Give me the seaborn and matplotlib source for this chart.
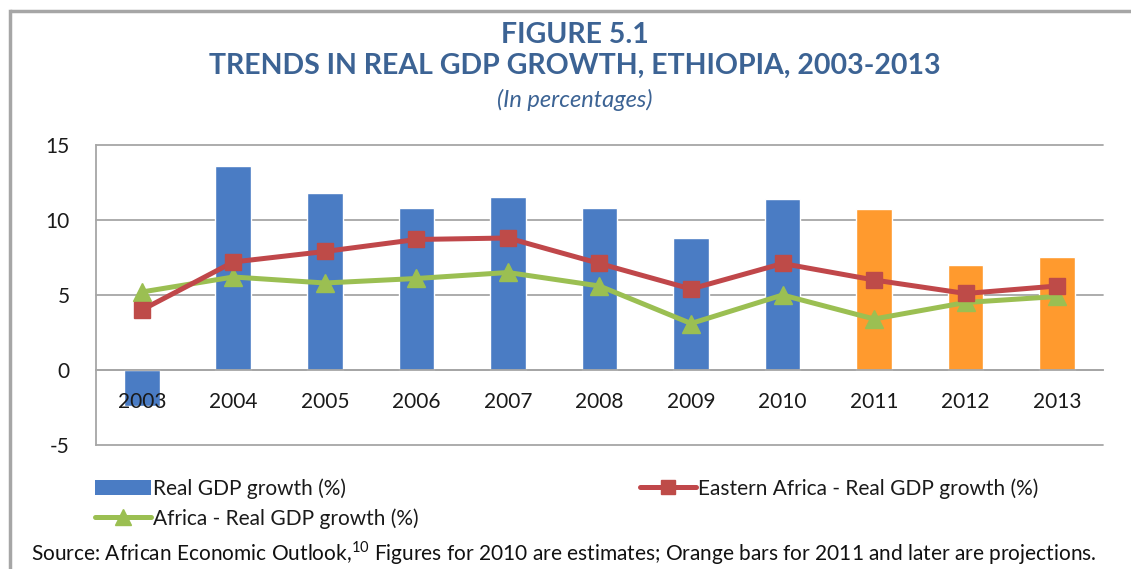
import numpy as np
import pandas as pd
import matplotlib
matplotlib.use("Agg")
import matplotlib.pyplot as plt
from matplotlib.lines import Line2D
from matplotlib.patches import Patch
import seaborn as sns

# Data (percent)
years = ["2003", "2004", "2005", "2006", "2007", "2008", "2009", "2010", "2011", "2012", "2013"]
ethiopia_gdp = [-2.4, 13.6, 11.8, 10.8, 11.5, 10.8, 8.8, 11.4, 10.7, 7.0, 7.5]
eastern_africa_gdp = [4.0, 7.2, 7.9, 8.7, 8.8, 7.1, 5.4, 7.1, 6.0, 5.1, 5.6]
africa_gdp = [5.2, 6.2, 5.8, 6.1, 6.5, 5.6, 3.1, 5.0, 3.4, 4.5, 4.9]
projection_from = "2011"

y_ticks = [-5, 0, 5, 10, 15]

BLUE = "#4a7cc4"
ORANGE = "#ff9a2e"
RED = "#c0474a"
GREEN = "#9bbf52"
TITLE_BLUE = "#3c6394"
TEXT = "#1a1a1a"
GRID = "#a6a6a6"

sns.set_theme(style="white")
FONT = ["Lato", "DejaVu Sans"]
plt.rcParams["font.family"] = FONT
plt.rcParams["mathtext.fontset"] = "custom"
plt.rcParams["mathtext.rm"] = "Lato"

df = pd.DataFrame({"year": years, "gdp": ethiopia_gdp})
bar_colors = [ORANGE if int(y) >= int(projection_from) else BLUE for y in years]

fig = plt.figure(figsize=(11.31, 5.69), dpi=100)
ax = fig.add_axes([0.0849, 0.2179, 0.8903, 0.5273])

# Horizontal gridlines behind everything
for v in y_ticks:
    ax.axhline(v, color=GRID, lw=1.3, zorder=0.5, clip_on=False)

sns.barplot(data=df, x="year", y="gdp", hue="year", palette=bar_colors,
            legend=False, width=0.39, saturation=1, ax=ax, zorder=1)

pos = np.arange(len(years))
ax.plot(pos, eastern_africa_gdp, color=RED, lw=3.6, marker="s", ms=12,
        mfc="#be4b48", mec="#be4b48", zorder=4)
ax.plot(pos, africa_gdp, color=GREEN, lw=3.6, marker="^", ms=13,
        mfc=GREEN, mec=GREEN, zorder=3)

ax.set_ylim(-5, 15)
ax.set_xlim(-0.5, len(years) - 0.5)
ax.set_yticks(y_ticks)
ax.set_yticklabels([str(v) for v in y_ticks])
ax.grid(False)
ax.set_axisbelow(False)
ax.set_xlabel("")
ax.set_ylabel("")

for s in ["top", "right"]:
    ax.spines[s].set_visible(False)
ax.spines["left"].set_color(GRID)
ax.spines["left"].set_linewidth(1.3)
ax.spines["bottom"].set_position(("data", 0))
ax.spines["bottom"].set_color(GRID)
ax.spines["bottom"].set_linewidth(1.3)

ax.set_xticks(pos)
ax.set_xticklabels(years)
ax.set_xticks(np.arange(len(years) + 1) - 0.5, minor=True)
ax.tick_params(axis="x", which="major", length=0, pad=16, labelsize=15, labelcolor=TEXT)
ax.tick_params(axis="x", which="minor", length=6, width=1.3, color=GRID, direction="out")
ax.tick_params(axis="y", length=0, pad=19, labelsize=15, labelcolor=TEXT)
ax.xaxis.set_zorder(5)

# Titles
fig.text(0.508, 0.938, "FIGURE 5.1", ha="center", va="center",
         fontsize=20.5, fontweight="bold", color=TITLE_BLUE)
fig.text(0.508, 0.884, "TRENDS IN REAL GDP GROWTH, ETHIOPIA, 2003-2013", ha="center",
         va="center", fontsize=20.5, fontweight="bold", color=TITLE_BLUE)
fig.text(0.508, 0.824, "(In percentages)", ha="center", va="center",
         fontsize=17, style="italic", color=TITLE_BLUE)

# Legend
handles = [
    Patch(facecolor=BLUE, edgecolor="none"),
    Line2D([], [], color=GREEN, lw=3.6, marker="^", ms=11),
    Line2D([], [], color=RED, lw=3.6, marker="s", ms=10, mfc="#be4b48", mec="#be4b48"),
]
labels = ["Real GDP growth (%)", "Africa - Real GDP growth (%)",
          "Eastern Africa - Real GDP growth (%)"]
fig.legend(handles, labels, ncol=2, loc="upper left", bbox_to_anchor=(0.084, 0.16),
           frameon=False, fontsize=15, handlelength=2.7, handletextpad=0.1,
           columnspacing=10.6, labelspacing=0.45, borderaxespad=0, borderpad=0,
           labelcolor=TEXT)

fig.text(0.027, 0.028,
         "Source: African Economic Outlook,$^{10}$ Figures for 2010 are estimates; "
         "Orange bars for 2011 and later are projections.",
         ha="left", va="center", fontsize=15, color="#111111")

# Frame along the top and left of the panel
top = 1 - 10.5 / 569
left = 10 / 1131
fig.add_artist(Line2D([left, 1.0], [top, top], transform=fig.transFigure,
                      color=GRID, lw=2.5, solid_capstyle="butt"))
fig.add_artist(Line2D([left, left], [0.0, top], transform=fig.transFigure,
                      color=GRID, lw=2.5, solid_capstyle="projecting"))

fig.savefig("out.png", dpi=100)
